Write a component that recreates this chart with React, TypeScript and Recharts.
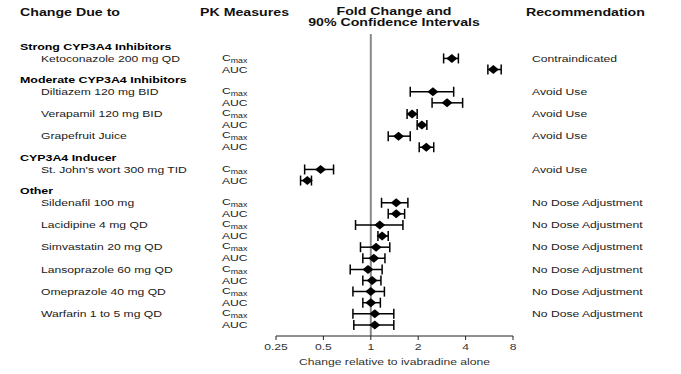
import React from 'react';
import { ScatterChart, Scatter, XAxis, YAxis, ReferenceLine, ErrorBar } from 'recharts';

const groupNames = ['Strong CYP3A4 Inhibitors', 'Moderate CYP3A4 Inhibitors', 'CYP3A4 Inducer', 'Other'];

const drugNames = [
  'Ketoconazole 200 mg QD',
  'Diltiazem 120 mg BID',
  'Verapamil 120 mg BID',
  'Grapefruit Juice',
  "St. John's wort 300 mg TID",
  'Sildenafil 100 mg',
  'Lacidipine 4 mg QD',
  'Simvastatin 20 mg QD',
  'Lansoprazole 60 mg QD',
  'Omeprazole 40 mg QD',
  'Warfarin 1 to 5 mg QD',
];

const drugGroup = [0, 1, 1, 1, 2, 3, 3, 3, 3, 3, 3];

const recommendations = [
  'Contraindicated',
  'Avoid Use',
  'Avoid Use',
  'Avoid Use',
  'Avoid Use',
  'No Dose Adjustment',
  'No Dose Adjustment',
  'No Dose Adjustment',
  'No Dose Adjustment',
  'No Dose Adjustment',
  'No Dose Adjustment',
];

const cmaxRatio = [3.27, 2.48, 1.83, 1.5, 0.48, 1.45, 1.14, 1.08, 0.96, 1.0, 1.06];
const cmaxLow = [2.9, 1.78, 1.7, 1.29, 0.38, 1.17, 0.8, 0.86, 0.74, 0.77, 0.77];
const cmaxHigh = [3.6, 3.36, 1.97, 1.78, 0.58, 1.72, 1.6, 1.32, 1.18, 1.22, 1.4];

const aucRatio = [6.0, 3.05, 2.11, 2.25, 0.395, 1.45, 1.18, 1.045, 1.02, 1.0, 1.06];
const aucLow = [5.54, 2.45, 1.97, 2.03, 0.358, 1.29, 1.11, 0.89, 0.89, 0.89, 0.78];
const aucHigh = [6.73, 3.83, 2.27, 2.51, 0.42, 1.64, 1.29, 1.23, 1.16, 1.15, 1.4];

const xTicks = [0.25, 0.5, 1, 2, 4, 8];

// one slot per text row: group headers, then Cmax / AUC rows per drug
type Row = {
  slot: number;
  kind: 'header' | 'cmax' | 'auc';
  label?: string;
  rec?: string;
  value?: number;
  err?: [number, number];
};

const rows: Row[] = [];
let lastGroup = -1;
drugNames.forEach((name, i) => {
  if (drugGroup[i] !== lastGroup) {
    lastGroup = drugGroup[i];
    rows.push({ slot: rows.length, kind: 'header', label: groupNames[lastGroup] });
  }
  rows.push({
    slot: rows.length,
    kind: 'cmax',
    label: name,
    rec: recommendations[i],
    value: cmaxRatio[i],
    err: [cmaxRatio[i] - cmaxLow[i], cmaxHigh[i] - cmaxRatio[i]],
  });
  rows.push({
    slot: rows.length,
    kind: 'auc',
    value: aucRatio[i],
    err: [aucRatio[i] - aucLow[i], aucHigh[i] - aucRatio[i]],
  });
});

const points = rows.filter((r) => r.kind !== 'header');
const slotTicks = rows.map((r) => r.slot);

const FONT = '"Liberation Sans", Arial, sans-serif';
// the source figure is stretched sideways, so text is widened to match
const SX = 1.35;

function SText({ x, y, size = 9, bold = false, anchor = 'start', fill = '#1a1a1a', children }: any) {
  return (
    <text
      transform={`translate(${x},${y}) scale(${SX},1)`}
      fontSize={size}
      fontWeight={bold ? 'bold' : 'normal'}
      fontFamily={FONT}
      fill={fill}
      textAnchor={anchor}
      dy="0.35em"
    >
      {children}
    </text>
  );
}

function RowTick(props: any) {
  const { y, payload } = props;
  const row = rows[payload.value];
  if (!row) return null;
  if (row.kind === 'header') {
    return (
      <SText x={20} y={y - 1} size={9.2} bold fill="#000">
        {row.label}
      </SText>
    );
  }
  return (
    <g>
      {row.label && (
        <SText x={41} y={y}>
          {row.label}
        </SText>
      )}
      {row.kind === 'cmax' ? (
        <SText x={222} y={y - 1}>
          <tspan>C</tspan>
          <tspan fontSize={6.5} dy={2}>
            max
          </tspan>
        </SText>
      ) : (
        <SText x={222} y={y}>
          AUC
        </SText>
      )}
      {row.rec && (
        <SText x={532} y={y}>
          {row.rec}
        </SText>
      )}
    </g>
  );
}

function XTick(props: any) {
  const { x, y, payload } = props;
  return (
    <SText x={x} y={y + 5} anchor="middle" fill="#333">
      {String(payload.value)}
    </SText>
  );
}

function AxisTitle(props: any) {
  const vb = props.viewBox;
  return (
    <SText x={vb.x + vb.width / 2} y={vb.y + vb.height - 12} anchor="middle" fill="#333">
      Change relative to ivabradine alone
    </SText>
  );
}

function Diamond(props: any) {
  const { cx, cy } = props;
  if (cx == null || cy == null) return null;
  return <polygon points={`${cx - 5.5},${cy} ${cx},${cy - 4.5} ${cx + 5.5},${cy} ${cx},${cy + 4.5}`} fill="#000" />;
}

const headStyle: React.CSSProperties = {
  position: 'absolute',
  fontFamily: FONT,
  fontWeight: 'bold',
  fontSize: 10.5,
  color: '#111',
  lineHeight: '11px',
  whiteSpace: 'nowrap',
  transform: `scaleX(${SX})`,
  transformOrigin: 'left top',
};

export default function App() {
  return (
    <div style={{ position: 'absolute', left: 0, top: 0, width: 681, height: 374, background: '#fff' }}>
      <div style={{ ...headStyle, left: 20, top: 7 }}>Change Due to</div>
      <div style={{ ...headStyle, left: 200, top: 7 }}>PK Measures</div>
      <div
        style={{
          ...headStyle,
          left: 294,
          top: 6,
          width: 200,
          textAlign: 'center',
          transformOrigin: 'center top',
        }}
      >
        Fold Change and
        <br />
        90% Confidence Intervals
      </div>
      <div style={{ ...headStyle, left: 526, top: 7 }}>Recommendation</div>
      <ScatterChart width={681} height={374} margin={{ top: 34, right: 168, bottom: 0, left: 0 }}>
        <XAxis
          type="number"
          dataKey="value"
          scale="log"
          domain={[0.25, 8]}
          ticks={xTicks}
          allowDataOverflow
          height={38}
          stroke="#222"
          tickSize={4}
          tick={<XTick />}
          label={{ content: <AxisTitle /> }}
        />
        <YAxis
          type="number"
          dataKey="slot"
          domain={[-1.2, 26]}
          reversed
          ticks={slotTicks}
          interval={0}
          width={276}
          axisLine={false}
          tickLine={false}
          tick={<RowTick />}
        />
        <ReferenceLine x={1} stroke="#888" strokeWidth={2} ifOverflow="extendDomain" />
        <Scatter data={points} fill="#000" shape={<Diamond />} isAnimationActive={false}>
          <ErrorBar dataKey="err" direction="x" width={5} stroke="#000" strokeWidth={1.5} isAnimationActive={false} />
        </Scatter>
      </ScatterChart>
    </div>
  );
}
